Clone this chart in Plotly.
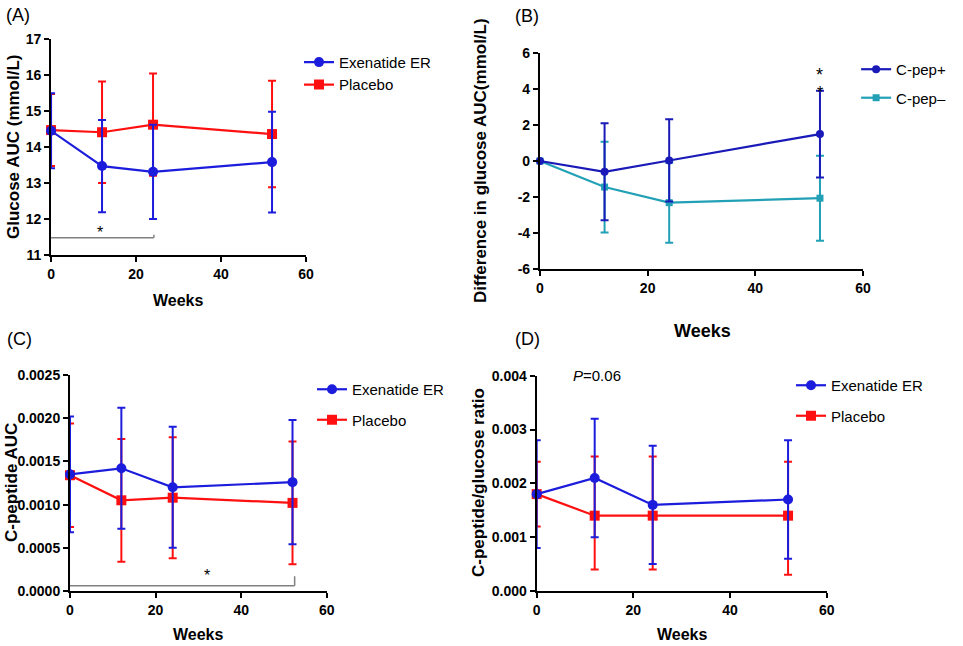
import plotly.graph_objects as go

weeks = [0, 12, 24, 52]

# (A) glucose AUC
a_exen = [14.45, 13.47, 13.31, 13.58]
a_exen_err = [1.04, 1.28, 1.31, 1.40]
a_plac = [14.47, 14.41, 14.62, 14.36]
a_plac_err = [1.0, 1.41, 1.42, 1.48]

# (B) difference in glucose AUC
b_pos = [0.0, -0.6, 0.03, 1.5]
b_pos_err = [0.0, 2.7, 2.29, 2.42]
b_neg = [0.0, -1.45, -2.32, -2.07]
b_neg_err = [0.0, 2.53, 2.23, 2.37]
b_ticks = [-6, -4, -2, 0, 2, 4, 6]
b_ticktext = ["-6", "-4", "-2", "0", "2", "4", "6"]

# (C) C-peptide AUC
c_exen = [0.00135, 0.00142, 0.00120, 0.00126]
c_exen_err = [0.00067, 0.00070, 0.00070, 0.00072]
c_plac = [0.00134, 0.00105, 0.00108, 0.00102]
c_plac_err = [0.00060, 0.00071, 0.00070, 0.00071]

# (D) C-peptide/glucose ratio
d_exen = [0.0018, 0.0021, 0.0016, 0.0017]
d_exen_err = [0.0010, 0.0011, 0.0011, 0.0011]
d_plac = [0.0018, 0.0014, 0.0014, 0.0014]
d_plac_up = [0.0006, 0.0011, 0.0011, 0.0010]
d_plac_dn = [0.0006, 0.0010, 0.0010, 0.0011]

BLUE = "#1c1cdc"
RED = "#ff1010"
DBLUE = "#1a1ab8"
TEAL = "#22a0b6"
FONT = "Liberation Sans"

fig = go.Figure()


def add_series(x, y, err, color, symbol, name, xa, ya, legend, rank, size=10, err_minus=None):
    ey = dict(type="data", array=err, color=color, thickness=2, width=4, visible=True)
    if err_minus is not None:
        ey["symmetric"] = False
        ey["arrayminus"] = err_minus
    fig.add_trace(go.Scatter(
        x=x, y=y, mode="lines+markers", name=name,
        line=dict(color=color, width=2.2),
        marker=dict(color=color, symbol=symbol, size=size),
        error_y=ey, xaxis=xa, yaxis=ya, legend=legend, legendrank=rank,
        legendgroup=legend + name, cliponaxis=False,
    ))


# placebo / C-pep- drawn first so the other series sits on top
add_series(weeks, a_plac, a_plac_err, RED, "square", "Placebo", "x", "y", "legend", 2)
add_series(weeks, a_exen, a_exen_err, BLUE, "circle", "Exenatide ER", "x", "y", "legend", 1)
add_series(weeks, b_neg, b_neg_err, TEAL, "square", "C-pep\u2013", "x2", "y2", "legend2", 2, size=7)
add_series(weeks, b_pos, b_pos_err, DBLUE, "circle", "C-pep+", "x2", "y2", "legend2", 1, size=8)
add_series(weeks, c_plac, c_plac_err, RED, "square", "Placebo", "x3", "y3", "legend3", 2)
add_series(weeks, c_exen, c_exen_err, BLUE, "circle", "Exenatide ER", "x3", "y3", "legend3", 1)
add_series(weeks, d_plac, d_plac_up, RED, "square", "Placebo", "x4", "y4", "legend4", 2, err_minus=d_plac_dn)
add_series(weeks, d_exen, d_exen_err, BLUE, "circle", "Exenatide ER", "x4", "y4", "legend4", 1)

ax_common = dict(
    showline=True, linecolor="black", linewidth=2, ticks="outside", ticklen=5, tickwidth=2,
    tickcolor="black", showgrid=False, zeroline=False, mirror=False, automargin=False,
    tickfont=dict(family=FONT, size=14, color="black", weight="bold"),
)

domains = {
    "": ((0.053, 0.3178), (0.6053, 0.9396)),
    "2": ((0.5607, 0.8962), (0.584, 0.9175)),
    "3": ((0.0727, 0.3393), (0.0851, 0.4195)),
    "4": ((0.5573, 0.8585), (0.0851, 0.4184)),
}
yranges = {"": [11, 17], "2": [-6, 6], "3": [0, 0.0025], "4": [0, 0.004]}
ydticks = {"": 1, "2": 2, "3": 0.0005, "4": 0.001}
yfmt = {"": "d", "2": "d", "3": ".4f", "4": ".3f"}

layout = {}
for k, (xd, yd) in domains.items():
    n = k if k else ""
    xa = dict(ax_common, domain=xd, range=[0, 60], dtick=20, tick0=0,
              anchor="y" + n, fixedrange=True)
    ya = dict(ax_common, domain=yd, range=yranges[k], dtick=ydticks[k], tick0=0,
              tickformat=yfmt[k], anchor="x" + n)
    if k == "2":
        ya.update(tickmode="array", tickvals=b_ticks, ticktext=b_ticktext)
    layout["xaxis" + n] = xa
    layout["yaxis" + n] = ya

legend_base = dict(font=dict(family=FONT, size=15, color="black"), bgcolor="rgba(0,0,0,0)",
                   xanchor="left", yanchor="top", itemwidth=30)
layout["legend"] = dict(legend_base, x=0.3105, y=0.929, tracegroupgap=0)
layout["legend2"] = dict(legend_base, x=0.889, y=0.918, tracegroupgap=6)
layout["legend3"] = dict(legend_base, x=0.324, y=0.4226, tracegroupgap=8)
layout["legend4"] = dict(legend_base, x=0.8214, y=0.4288, tracegroupgap=8)

ann = []
W, H = 963, 646


def label(text, x, y, size=18):
    ann.append(dict(text=text, x=x / W, y=1 - y / H, xref="paper", yref="paper", showarrow=False,
                    xanchor="center", yanchor="middle",
                    font=dict(family=FONT, size=size, color="black")))


def bold_title(text, x, y, angle=0, size=16):
    ann.append(dict(text=text, x=x / W, y=1 - y / H, xref="paper", yref="paper", showarrow=False,
                    xanchor="center", yanchor="middle", textangle=angle,
                    font=dict(family=FONT, size=size, color="black", weight="bold")))


label("(A)", 18, 15)
label("(B)", 527, 16)
label("(C)", 19, 339)
label("(D)", 527, 339)

bold_title("Glucose AUC (mmol/L)", 14, 147, -90, size=17)
bold_title("Difference in glucose AUC(mmol/L)", 480, 161, -90, size=17)
bold_title("C-peptide AUC", 11, 483, -90, size=17)
bold_title("C-peptide/glucose ratio", 478, 483, -90, size=17)
bold_title("Weeks", 178, 300)
bold_title("Weeks", 702, 331, size=18)
bold_title("Weeks", 198, 634)
bold_title("Weeks", 682, 634)

# significance markers
star = dict(showarrow=False, xanchor="center", yanchor="middle")
ann.append(dict(star, text="*", x=11.5, y=11.62, xref="x", yref="y",
                font=dict(family=FONT, size=16, color="black")))
ann.append(dict(star, text="*", x=32, y=0.00018, xref="x3", yref="y3",
                font=dict(family=FONT, size=16, color="black")))
ann.append(dict(star, text="*", x=52, y=4.8, xref="x2", yref="y2",
                font=dict(family=FONT, size=18, color="black")))
ann.append(dict(star, text="*", x=52, y=3.8, xref="x2", yref="y2",
                font=dict(family=FONT, size=16, color="black")))
ann.append(dict(star, text="<i>P</i>=0.06", x=12.5, y=0.004, xref="x4", yref="y4",
                font=dict(family=FONT, size=15, color="black")))

shapes = [
    dict(type="line", xref="x", yref="y", x0=0, x1=24.2, y0=11.48, y1=11.48,
         line=dict(color="#808080", width=1.5)),
    dict(type="line", xref="x", yref="y", x0=24.2, x1=24.2, y0=11.48, y1=11.56,
         line=dict(color="#808080", width=1.5)),
    dict(type="line", xref="x3", yref="y3", x0=0, x1=52.5, y0=0.00006, y1=0.00006,
         line=dict(color="#808080", width=1.5)),
    dict(type="line", xref="x3", yref="y3", x0=52.5, x1=52.5, y0=0.00006, y1=0.00017,
         line=dict(color="#808080", width=1.5)),
]

fig.update_layout(
    width=W, height=H, margin=dict(l=0, r=0, t=0, b=0),
    paper_bgcolor="white", plot_bgcolor="white",
    annotations=ann, shapes=shapes, showlegend=True,
    **layout,
)

fig.write_html("out.html", config={"displayModeBar": False},
               post_script="document.body.style.margin='0px';")
